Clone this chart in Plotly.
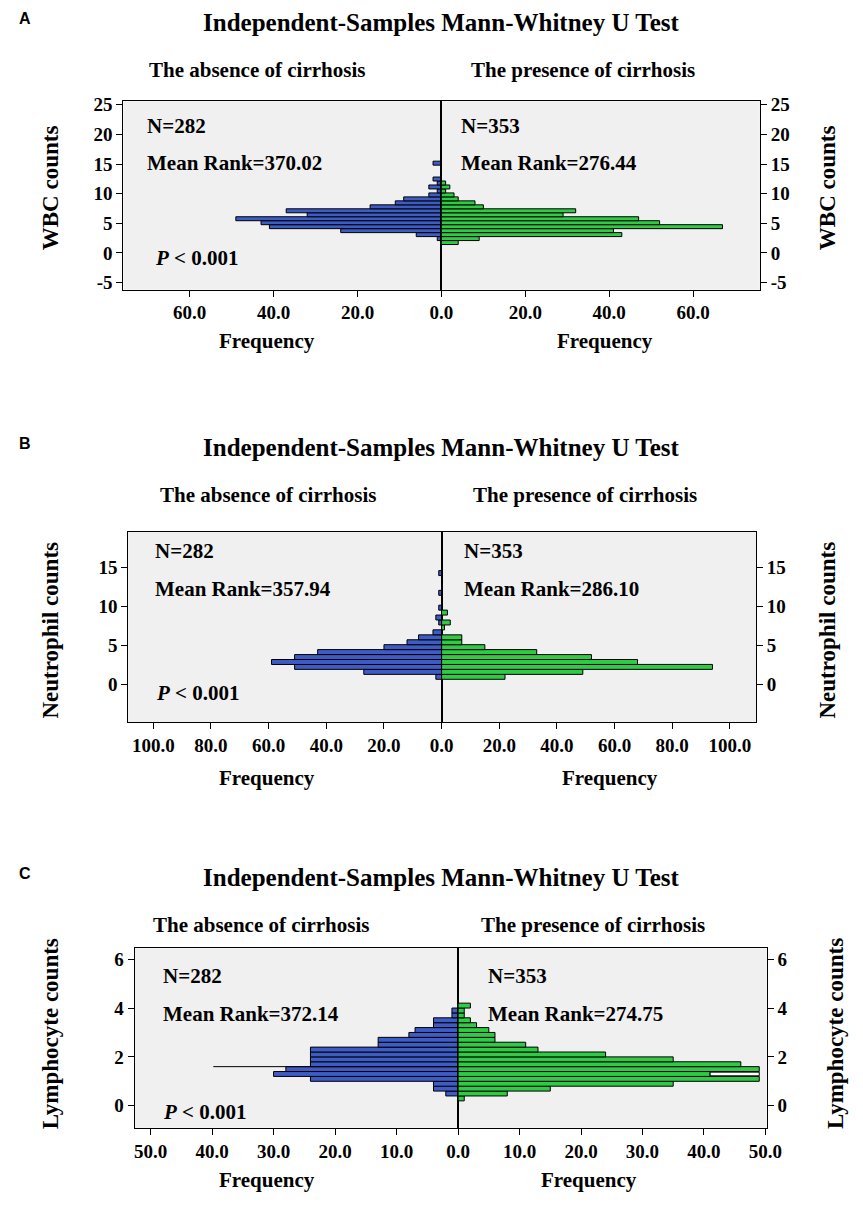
import plotly.graph_objects as go

W, H = 863, 1217

# ---------------- data ----------------
# Panel A: WBC counts (bin centres) and frequencies
wbc_bins = [1.75, 2.42, 3.09, 3.76, 4.43, 5.10, 5.77, 6.44, 7.11, 7.78, 8.45,
            9.12, 9.79, 10.46, 11.13, 11.80, 12.47, 13.14, 13.81, 14.48, 15.15]
wbc_absence = [0, 1, 6, 24, 41, 43, 49, 32, 37, 17, 11, 9, 3, 1, 3, 1, 2, 0, 0, 0, 2]
wbc_presence = [4, 9, 43, 41, 67, 52, 47, 29, 32, 10, 8, 4, 3, 1, 2, 1, 0, 0, 0, 0, 0]

# Panel B: Neutrophil counts
neu_bins = [1.00, 1.63, 2.27, 2.90, 3.53, 4.17, 4.80, 5.43, 6.06, 6.70, 7.33,
            7.96, 8.60, 9.23, 9.86, 10.50, 11.13, 11.76, 12.39, 13.03, 13.66, 14.29]
neu_absence = [2, 27, 51, 59, 51, 43, 20, 12, 8, 3, 0, 1, 2, 0, 1, 0, 0, 1, 0, 0, 0, 1]
neu_presence = [22, 49, 94, 68, 52, 33, 15, 7, 7, 0, 1, 3, 0, 2, 0, 0, 0, 0, 0, 0, 0, 0]

# Panel C: Lymphocyte counts
lym_bins = [0.3, 0.5, 0.7, 0.9, 1.1, 1.3, 1.5, 1.7, 1.9, 2.1,
            2.3, 2.5, 2.7, 2.9, 3.1, 3.3, 3.5, 3.7, 3.9, 4.1]
lym_absence = [0, 2, 4, 4, 24, 30, 28, 24, 24, 24, 24, 13, 13, 8, 7, 4, 4, 1, 1, 0]
lym_presence = [1, 8, 15, 35, 49, 41, 49, 46, 35, 24, 13, 11, 6, 6, 5, 3, 2, 1, 1, 2]
# rendering artefacts visible in the original SPSS output (panel C)
lym_stray_line_x = [0, 39.8]
lym_stray_line_y = [1.6, 1.6]
lym_hollow_base = [41]
lym_hollow_len = [8]
lym_hollow_y = [1.3]

titles = ["Independent-Samples Mann-Whitney U Test"] * 3
group_labels = ["The absence of cirrhosis", "The presence of cirrhosis"]
n_labels = ["N=282", "N=353"]
mean_ranks = [["Mean Rank=370.02", "Mean Rank=276.44"],
              ["Mean Rank=357.94", "Mean Rank=286.10"],
              ["Mean Rank=372.14", "Mean Rank=274.75"]]
y_titles = ["WBC counts", "Neutrophil counts", "Lymphocyte counts"]
panel_letters = ["A", "B", "C"]
wbc_yticks = [-5, 0, 5, 10, 15, 20, 25]
wbc_yticktext = ["-5", "0", "5", "10", "15", "20", "25"]
neu_yticks = [0, 5, 10, 15]
lym_yticks = [0, 2, 4, 6]

# ---------------- style / layout ----------------
BLUE = "#3d5cc6"
GREEN = "#2fcb45"
SERIF = "Liberation Serif"
tickfont = dict(family=SERIF, size=19, color="black", weight="bold")

panels = [
    dict(bins=wbc_bins, left=wbc_absence, right=wbc_presence, bw=0.67,
         xl=115, xc=443.3, xr=772, yt=95, yb=285,
         xrange_l=75.8, xrange_r=75.9, xticks=[0, 20, 40, 60],
         yrange=[-6.2, 25.6], yticks=wbc_yticks, yticktext=wbc_yticktext,
         title_y=16, group_y=64, group_x=[253, 589],
         n_y=120, mr_y=157, txt_x=[137, 461], p_pos=(146, 253),
         freq_y=337, freq_x=[263, 612], ytitle_x=[40, 842], ytitle_y=182),
    dict(bins=neu_bins, left=neu_absence, right=neu_presence, bw=0.633,
         xl=120, xc=443.5, xr=768, yt=529, yb=721,
         xrange_l=108.7, xrange_r=109.1, xticks=[0, 20, 40, 60, 80, 100],
         yrange=[-4.8, 19.6], yticks=neu_yticks,
         yticktext=[str(v) for v in neu_yticks],
         title_y=444, group_y=492, group_x=[264, 591],
         n_y=549, mr_y=587, txt_x=[146, 465], p_pos=(147, 692),
         freq_y=777, freq_x=[263, 617], ytitle_x=[40, 842], ytitle_y=628),
    dict(bins=lym_bins, left=lym_absence, right=lym_presence, bw=0.2,
         xl=126.5, xc=460.5, xr=779, yt=949, yb=1130,
         xrange_l=52.6, xrange_r=50.2, xticks=[0, 10, 20, 30, 40, 50],
         yrange=[-0.9, 6.45], yticks=lym_yticks,
         yticktext=[str(v) for v in lym_yticks],
         title_y=878, group_y=926, group_x=[257, 600],
         n_y=977, mr_y=1015, txt_x=[154, 489], p_pos=(154, 1114),
         freq_y=1183, freq_x=[263, 596], ytitle_x=[40, 850], ytitle_y=1035),
]


def fx(p):
    return p / W


def fy(p):
    return 1 - p / H


fig = go.Figure()
layout = dict(
    width=W, height=H, margin=dict(l=0, r=0, t=0, b=0),
    paper_bgcolor="white", plot_bgcolor="#f0f0f0",
    barmode="overlay", showlegend=False, annotations=[],
)

for i, P in enumerate(panels):
    xl_name = f"x{2 * i + 1}" if i > 0 else "x"
    xr_name = f"x{2 * i + 2}"
    yl_name = f"y{2 * i + 1}" if i > 0 else "y"
    yr_name = f"y{2 * i + 2}"
    xl_key = "xaxis" if i == 0 else f"xaxis{2 * i + 1}"
    xr_key = f"xaxis{2 * i + 2}"
    yl_key = "yaxis" if i == 0 else f"yaxis{2 * i + 1}"
    yr_key = f"yaxis{2 * i + 2}"

    lb = [b for b, v in zip(P["bins"], P["left"]) if v > 0]
    lv = [v for v in P["left"] if v > 0]
    rb = [b for b, v in zip(P["bins"], P["right"]) if v > 0]
    rv = [v for v in P["right"] if v > 0]

    fig.add_trace(go.Bar(x=lv, y=lb, orientation="h", width=P["bw"],
                         marker=dict(color=BLUE, line=dict(color="black", width=1)),
                         xaxis=xl_name, yaxis=yl_name))
    fig.add_trace(go.Bar(x=rv, y=rb, orientation="h", width=P["bw"],
                         marker=dict(color=GREEN, line=dict(color="black", width=1)),
                         xaxis=xr_name, yaxis=yr_name))

    if i == 2:
        fig.add_trace(go.Scatter(x=lym_stray_line_x, y=lym_stray_line_y, mode="lines",
                                 line=dict(color="black", width=1),
                                 xaxis=xl_name, yaxis=yl_name, hoverinfo="skip"))
        fig.add_trace(go.Bar(x=lym_hollow_len, base=lym_hollow_base, y=lym_hollow_y,
                             orientation="h", width=0.15,
                             marker=dict(color="white", line=dict(color="black", width=1)),
                             xaxis=xr_name, yaxis=yr_name))

    xdom_l = [fx(P["xl"]), fx(P["xc"])]
    xdom_r = [fx(P["xc"]), fx(P["xr"])]
    ydom = [fy(P["yb"]), fy(P["yt"])]
    common_x = dict(showgrid=False, zeroline=False, showline=True, linecolor="black",
                    linewidth=1, mirror=True, ticks="outside", ticklen=6,
                    tickcolor="black", tickwidth=1, tickformat=".1f", tickfont=tickfont,
                    fixedrange=True)
    common_y = dict(showgrid=False, zeroline=False, showline=True, linecolor="black",
                    linewidth=1, mirror=True, ticks="outside", ticklen=6,
                    tickcolor="black", tickwidth=1, tickfont=tickfont,
                    range=P["yrange"], tickmode="array", tickvals=P["yticks"],
                    ticktext=P["yticktext"], fixedrange=True)
    layout[xl_key] = dict(common_x, domain=xdom_l, anchor=yl_name,
                          range=[P["xrange_l"], 0],
                          tickvals=[t for t in P["xticks"] if t > 0])
    layout[xr_key] = dict(common_x, domain=xdom_r, anchor=yr_name,
                          range=[0, P["xrange_r"]], tickvals=P["xticks"])
    layout[yl_key] = dict(common_y, domain=ydom, anchor=xl_name, side="left")
    layout[yr_key] = dict(common_y, domain=ydom, anchor=xr_name, side="right")

    ann = layout["annotations"]

    def add(text, x, y, size=21, xanchor="center", angle=0, family=SERIF):
        ann.append(dict(text=text, x=fx(x), y=fy(y), xref="paper", yref="paper",
                        xanchor=xanchor, yanchor="middle", showarrow=False,
                        textangle=angle,
                        font=dict(family=family, size=size, color="black")))

    add(f"<b>{panel_letters[i]}</b>", 13, P["title_y"] - 4, size=16,
        family="Liberation Sans")
    add(f"<b>{titles[i]}</b>", 443, P["title_y"], size=25)
    add(f"<b>{group_labels[0]}</b>", P["group_x"][0], P["group_y"])
    add(f"<b>{group_labels[1]}</b>", P["group_x"][1], P["group_y"])
    add(f"<b>{n_labels[0]}</b>", P["txt_x"][0], P["n_y"], xanchor="left")
    add(f"<b>{n_labels[1]}</b>", P["txt_x"][1], P["n_y"], xanchor="left")
    add(f"<b>{mean_ranks[i][0]}</b>", P["txt_x"][0], P["mr_y"], xanchor="left")
    add(f"<b>{mean_ranks[i][1]}</b>", P["txt_x"][1], P["mr_y"], xanchor="left")
    add("<b><i>P</i> &lt; 0.001</b>", P["p_pos"][0], P["p_pos"][1], xanchor="left")
    add("<b>Frequency</b>", P["freq_x"][0], P["freq_y"])
    add("<b>Frequency</b>", P["freq_x"][1], P["freq_y"])
    add(f"<b>{y_titles[i]}</b>", P["ytitle_x"][0], P["ytitle_y"], size=23, angle=-90)
    add(f"<b>{y_titles[i]}</b>", P["ytitle_x"][1], P["ytitle_y"], size=23, angle=-90)

fig.update_layout(**layout)
fig.write_html("out.html")
